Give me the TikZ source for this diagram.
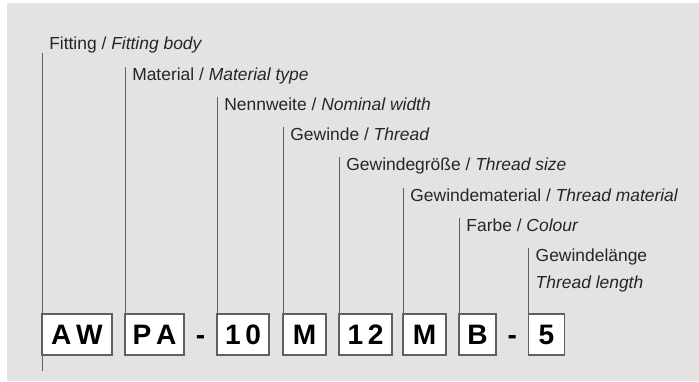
\documentclass[tikz,border=0pt]{standalone}
\usepackage{fontspec}
\setmainfont{Liberation Sans}
\usetikzlibrary{positioning}
\definecolor{panelgray}{HTML}{E3E3E3}
\definecolor{framegray}{HTML}{606060}

\begin{document}
\begin{tikzpicture}[node distance = 0.325cm]
        \tikzstyle{code} = [rectangle, draw = framegray, line width = 1.1pt, fill = white, font = \fontsize{20}{24}\selectfont\bfseries, inner xsep = 0, outer sep = 0, minimum height = 1.02cm]
        \tikzstyle{sep} = [inner sep = 0, text height = 0.5cm, text depth = 0cm, font = \fontsize{20}{24}\selectfont\bfseries]
        \tikzstyle{caption} = [anchor = base west, inner xsep = 0.175cm, inner ysep = 0, font = \fontsize{12.4}{19.2}\selectfont, text = black!85, align = left]
        \tikzstyle{lead} = [draw = framegray, line width = 0.7pt]
        \useasboundingbox (0,0) rectangle (17.475,9.525);
        \fill [panelgray] (0.175,0) rectangle (17.475,9.45);
        \node at (1.05,1.16) (aw) [code, anchor = west, minimum width = 1.75cm] {A\,W};
        \node (pa) [code, minimum width = 1.475cm, right = of aw] {P\,A};
        \node (dash1) [sep, right = 0.29cm of pa] {-};
        \node (nw) [code, minimum width = 1.3cm, right = 0.29cm of dash1] {1\,0};
        \node (thread) [code, minimum width = 1.075cm, right = 0.35cm of nw] {M};
        \node (size) [code, minimum width = 1.325cm, right = of thread] {1\,2};
        \node (thmat) [code, minimum width = 1.075cm, right = 0.275cm of size] {M};
        \node (colour) [code, minimum width = 0.925cm, right = of thmat] {B};
        \node (dash2) [sep, right = 0.28cm of colour] {-};
        \node (length) [code, minimum width = 0.9cm, right = 0.28cm of dash2] {5};
        \node (lfit) [caption] at ([yshift = 6.625cm] aw.north west) {Fitting / \textit{Fitting body}};
        \node (lmat) [caption] at ([yshift = 5.85cm] pa.north west) {Material / \textit{Material type}};
        \node (lnw) [caption] at ([yshift = 5.1cm] nw.north west) {Nennweite / \textit{Nominal width}};
        \node (lthread) [caption] at ([yshift = 4.35cm] thread.north west) {Gewinde / \textit{Thread}};
        \node (lsize) [caption] at ([yshift = 3.6cm] size.north west) {Gewindegröße / \textit{Thread size}};
        \node (lthmat) [caption] at ([yshift = 2.825cm] thmat.north west) {Gewindematerial / \textit{Thread material}};
        \node (lcolour) [caption] at ([yshift = 2.075cm] colour.north west) {Farbe / \textit{Colour}};
        \node (llength) [caption] at ([yshift = 0.65cm] length.north west) {Gewindelänge \\ \textit{Thread length}};
        \coordinate (awfoot) at ([yshift = -0.4cm] aw.south west);
        \draw [lead] (awfoot) -- (aw.south west);
        \draw [lead] (aw.north west) -- (lfit.south west);
        \draw [lead] (pa.north west) -- (lmat.north west);
        \draw [lead] (nw.north west) -- (lnw.north west);
        \draw [lead] (thread.north west) -- (lthread.north west);
        \draw [lead] (size.north west) -- (lsize.north west);
        \draw [lead] (thmat.north west) -- (lthmat.north west);
        \draw [lead] (colour.north west) -- (lcolour.north west);
        \draw [lead] (length.north west) -- (llength.north west);
    \end{tikzpicture}
\end{document}
